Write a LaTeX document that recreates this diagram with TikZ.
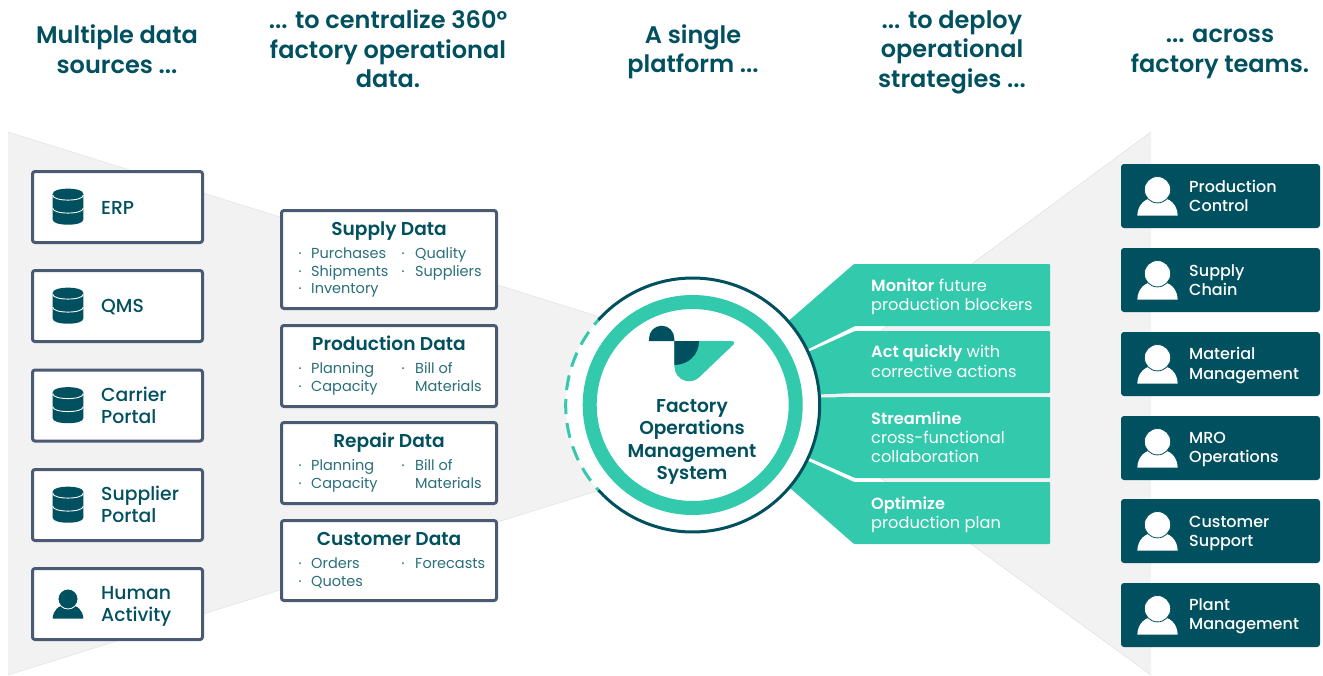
\documentclass[tikz,border=0pt]{standalone}
\usepackage{fontspec}
\setmainfont{Poppins}
\newfontfamily\hdf{Poppins SemiBold}
\newfontfamily\mdf{Poppins Medium}
\definecolor{dk}{HTML}{00505F}
\definecolor{tl}{HTML}{32C9AC}
\definecolor{gy}{HTML}{F2F2F2}
\definecolor{bd}{HTML}{4A5A73}
\definecolor{tx}{HTML}{2A6F7C}
\tikzset{
 head/.style={font=\hdf\fontsize{24}{29.5}\selectfont,text=dk,align=center,inner sep=0,anchor=center},
 srcbox/.style={draw=bd,line width=3pt,rounded corners=2.5pt,fill=white},
 srctxt/.style={font=\mdf\fontsize{18.8}{22}\selectfont,text=dk,align=left,inner sep=0,anchor=west},
 mtitle/.style={font=\hdf\fontsize{18.6}{20}\selectfont,text=dk,inner sep=0,anchor=center,text height=13pt,text depth=0pt},
 mitem/.style={font=\fontsize{14.5}{17.5}\selectfont,text=tx,inner sep=0,anchor=west,text height=10pt,text depth=0pt},
 tealbox/.style={fill=tl,rounded corners=1pt},
 ttxt/.style={font=\fontsize{16.2}{19}\selectfont,text=white,inner sep=0,anchor=west,text height=11pt,text depth=0pt},
 ptxt/.style={font=\mdf\fontsize{16}{19.3}\selectfont,text=white,align=left,inner sep=0,anchor=west},
 teambox/.style={fill=dk,rounded corners=3pt},
 edge/.style={draw=black!16,line width=0.3pt},
}
\newcommand\dbicon[2]{%
 \begin{scope}[shift={(#1,#2)}]
  \fill[dk] (-15.3,-13) .. controls (-15.3,-19.7) and (15.3,-19.7) .. (15.3,-13) -- (15.3,13)
   .. controls (15.3,19.7) and (-15.3,19.7) .. (-15.3,13) -- cycle;
  \draw[white,line width=0.9pt] (-15.3,-11.5) .. controls (-15.3,-5) and (15.3,-5) .. (15.3,-11.5);
  \draw[white,line width=0.9pt] (-15.3,1.5) .. controls (-15.3,8) and (15.3,8) .. (15.3,1.5);
 \end{scope}}
\newcommand\personicon[5]{% x, bottom y, scale, fill, gap
 \begin{scope}[shift={(#1,#2)},scale=#3]
  \fill[#4] (-15.3,0) .. controls (-15,-8) and (-10,-14) .. (0,-14) .. controls (10,-14) and (15,-8) .. (15.3,0) -- cycle;
  \fill[#4,draw=#5,line width=0.8pt] (0,-19.7) circle[radius=10];
 \end{scope}}
\newcommand\itemdot[2]{\fill[tx] (#1,#2) circle[radius=1];}
\begin{document}
\begin{tikzpicture}[x=1pt,y=-1pt]
\useasboundingbox (0,0) rectangle (1323,675);
% grey funnels
\fill[gy] (8,132) -- (600,317) -- (600,490) -- (8,675) -- cycle;
\fill[gy] (1151,132) -- (780,405) -- (1151,675) -- cycle;
\draw[edge] (8,132) -- (600,317);
\draw[edge] (8,675) -- (600,490);
\draw[edge] (1151,132) -- (780,405);
\draw[edge] (1151,675) -- (780,405);
% headings
\node[head] (h1) at (117,49) {Multiple data\\sources ...};
\node[head] (h2) at (388,49) {... to centralize 360°\\factory operational\\data.};
\node[head] (h3) at (693,52) {A single\\platform ...};
\node[head] (h4) at (952,52) {... to deploy\\operational\\strategies ...};
\node[head] (h5) at (1220,54) {... across\\factory teams.};
% source boxes
\foreach \n/\y in {a/170,b/269,c/368.5,d/468,e/567}{
 \draw[srcbox] (32.5,\y+1.5) rectangle (202.5,\y+72.5);
}
\dbicon{68}{206.7}
\dbicon{68}{305.7}
\dbicon{68}{405.2}
\dbicon{68}{504.7}
\personicon{68}{618.7}{1}{dk}{white}
\node[srctxt] (s1) at (101,208) {ERP};
\node[srctxt] (s2) at (101,307) {QMS};
\node[srctxt] (s3) at (101,405) {Carrier\\Portal};
\node[srctxt] (s4) at (101,504) {Supplier\\Portal};
\node[srctxt] (s5) at (101,606) {Human\\Activity};
% data boxes
\draw[srcbox] (281.5,210.5) rectangle (496.5,308.5);
\draw[srcbox] (281.5,325.5) rectangle (496.5,406.5);
\draw[srcbox] (281.5,422.5) rectangle (496.5,503.5);
\draw[srcbox] (281.5,520.5) rectangle (496.5,600.5);
\node[mtitle] (t1) at (389,229) {Supply Data};
\node[mtitle] (t2) at (389,344) {Production Data};
\node[mtitle] (t3) at (389,441) {Repair Data};
\node[mtitle] (t4) at (389,539) {Customer Data};
\foreach \y in {253,271,288,368,386,465,483,563,581}{\itemdot{300}{\y}}
\foreach \y in {253,271,368,465,563}{\itemdot{403}{\y}}
\node[mitem] (i1) at (311,253) {Purchases};
\node[mitem] (i2) at (311,271) {Shipments};
\node[mitem] (i3) at (311,288) {Inventory};
\node[mitem] (i4) at (415,253) {Quality};
\node[mitem] (i5) at (415,271) {Suppliers};
\node[mitem] (i6) at (311,368) {Planning};
\node[mitem] (i7) at (311,386) {Capacity};
\node[mitem] (i8) at (415,368) {Bill of};
\node[mitem] (i9) at (415,386) {Materials};
\node[mitem] (i10) at (311,465) {Planning};
\node[mitem] (i11) at (311,483) {Capacity};
\node[mitem] (i12) at (415,465) {Bill of};
\node[mitem] (i13) at (415,483) {Materials};
\node[mitem] (i14) at (311,563) {Orders};
\node[mitem] (i15) at (311,581) {Quotes};
\node[mitem] (i16) at (415,563) {Forecasts};
% teal strategy shapes
\fill[tealbox] (854,264) -- (1050,264) -- (1050,326) -- (855,326) -- (780,363) -- (770,337) -- cycle;
\fill[tealbox] (855,331) -- (1050,331) -- (1050,393) -- (855,393) -- (780,396) -- (780,364.5) -- cycle;
\fill[tealbox] (855,397) -- (1050,397) -- (1050,478) -- (855,478) -- (780,445) -- (780,398) -- cycle;
\fill[tealbox] (854,482) -- (1050,482) -- (1050,544) -- (854,544) -- (770,470.5) -- (780,448) -- cycle;
\node[ttxt] (m1) at (871,286) {{\hdf Monitor} future};
\node[ttxt] (m2) at (871,305) {production blockers};
\node[ttxt] (m3) at (871,352) {{\hdf Act quickly} with};
\node[ttxt] (m4) at (871,372) {corrective actions};
\node[ttxt] (m5) at (871,419) {{\hdf Streamline}};
\node[ttxt] (m6) at (871,438) {cross-functional};
\node[ttxt] (m7) at (871,457) {collaboration};
\node[ttxt] (m8) at (871,504) {{\hdf Optimize}};
\node[ttxt] (m9) at (871,523) {production plan};
% hub
\fill[white] (692.7,405) circle[radius=127];
\draw[dk,line width=3pt,variable=\t,domain=-138:138,samples=80,smooth] plot ({692.7+127*cos(\t)},{405+127*sin(\t)});
\draw[tl,line width=3pt,variable=\t,domain=138:222,samples=60,smooth,dash pattern=on 15pt off 9pt,dash phase=12pt] plot ({692.7+127*cos(\t)},{405+127*sin(\t)});
\draw[tl,line width=14pt] (692.7,405) circle[radius=103];
% logo
\fill[dk] (649,341) -- (649,338.5) .. controls (649,331.5) and (654.7,325.7) .. (661.7,325.7) .. controls (668.7,325.7) and (674.3,331.5) .. (674.3,338.5) -- (674.3,341) -- cycle;
\fill[tl] (674.3,341) -- (732,341) .. controls (734.5,341) and (735,343) .. (733.5,344.5) -- (700,376.5) .. controls (694,382) and (690,381.5) .. (686,381) .. controls (679,379.5) and (674.3,373) .. (674.3,366) -- cycle;
\fill[dk] (674.3,341) -- (699,341) .. controls (699,355) and (688,365) .. (674.3,365) -- cycle;
\node[font=\hdf\fontsize{18.6}{22.5}\selectfont,text=dk,align=center,inner sep=0] (hub) at (692,442) {Factory\\Operations\\Management\\System};
% team boxes
\foreach \y in {164,248,332,416,499,583}{
 \fill[teambox] (1121,\y) rectangle (1320,\y+64);
 \personicon{1157.5}{\y+51.7}{1.32}{white}{dk}
}
\node[ptxt] (p1) at (1189,196) {Production\\Control};
\node[ptxt] (p2) at (1189,280) {Supply\\Chain};
\node[ptxt] (p3) at (1189,365.5) {Material\\Management};
\node[ptxt] (p4) at (1189,449.5) {MRO\\Operations};
\node[ptxt] (p5) at (1189,533.5) {Customer\\Support};
\node[ptxt] (p6) at (1189,616.5) {Plant\\Management};
\end{tikzpicture}
\end{document}
